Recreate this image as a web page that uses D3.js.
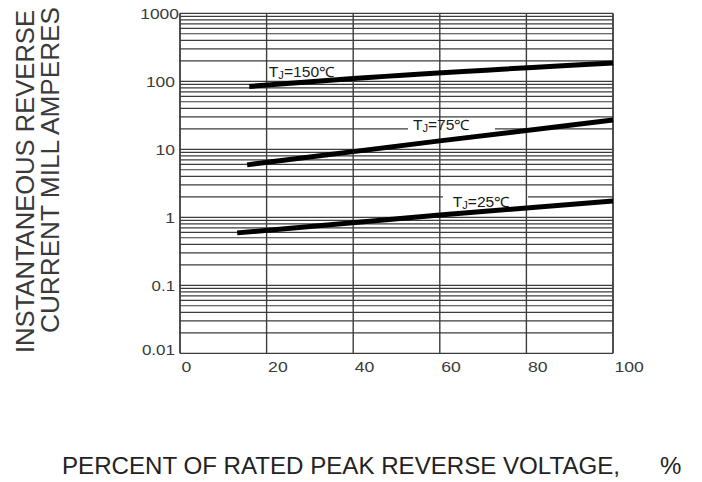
<!DOCTYPE html>
<html>
<head>
<meta charset="utf-8">
<script src="https://cdn.jsdelivr.net/npm/d3@7"></script>
<style>
  html, body { margin: 0; padding: 0; background: #fff; }
  svg { display: block; }
  text { font-family: "Liberation Sans", Arial, sans-serif; fill: #3a3a3a; }
</style>
</head>
<body>
<svg id="chart" width="702" height="482"></svg>
<script>
// ---- data ----
const xTicks = [0, 20, 40, 60, 80, 100];
const yTicks = [0.01, 0.1, 1, 10, 100, 1000];
const yTickLabels = ["0.01", "0.1", "1", "10", "100", "1000"];
const minorMultipliers = [2, 3, 4, 5, 6, 7, 8, 9];

const seriesNames = ["150", "75", "25"];
const x150 = [16, 40, 100];
const y150 = [84, 110, 186];
const x75 = [15.5, 60, 100];
const y75 = [5.9, 13.3, 27];
const x25 = [13.2, 60, 100];
const y25 = [0.59, 1.08, 1.74];

const xTitle = "PERCENT  OF  RATED PEAK REVERSE VOLTAGE,";
const yTitle1 = "INSTANTANEOUS REVERSE";
const yTitle2 = "CURRENT MILL AMPERES";

// ---- layout ----
const svg = d3.select("#chart");
const x = d3.scaleLinear().domain([0, 100]).range([180, 613]);
const y = d3.scaleLog().domain([0.01, 1000]).range([353.3, 13.3]);

const gridColor = "#3c3c3c";

// minor horizontal grid
const minorVals = [];
for (let e = -2; e < 3; e++) {
  minorMultipliers.forEach(m => minorVals.push(m * Math.pow(10, e)));
}
const grid = svg.append("g");
grid.selectAll("line.minor").data(minorVals).join("line")
  .attr("class", "minor")
  .attr("x1", x(0)).attr("x2", x(100))
  .attr("y1", d => y(d)).attr("y2", d => y(d))
  .attr("stroke", gridColor).attr("stroke-width", 1.2);
grid.selectAll("line.major").data(yTicks).join("line")
  .attr("class", "major")
  .attr("x1", x(0)).attr("x2", x(100))
  .attr("y1", d => y(d)).attr("y2", d => y(d))
  .attr("stroke", gridColor).attr("stroke-width", 1.3);

// label configuration (white background boxes for 75 & 25)
const labelCfg = [
  { name: "150", lx: 20.5, ly: 137, box: null, len: 66 },
  { name: "75", lx: 53.8, ly: 22.8, box: [408, 495], len: 57 },
  { name: "25", lx: 63.0, ly: 1.68, box: [443, 528], len: 57 }
];
const boxG = svg.append("g");
labelCfg.forEach(c => {
  const cy = y(c.ly);
  if (c.box) {
    boxG.append("rect")
      .attr("x", c.box[0]).attr("y", cy - 6)
      .attr("width", c.box[1] - c.box[0]).attr("height", 12)
      .attr("fill", "#fff");
  }
});

// vertical grid
svg.append("g").selectAll("line.v").data(xTicks).join("line")
  .attr("class", "v")
  .attr("x1", d => x(d)).attr("x2", d => x(d))
  .attr("y1", y(1000)).attr("y2", y(0.01))
  .attr("stroke", gridColor).attr("stroke-width", d => (d === 0 || d === 100) ? 1.8 : 1.4);

// axes tick labels
const xAxis = d3.axisBottom(x).tickValues(xTicks).tickSize(0).tickPadding(0);
const gx = svg.append("g").attr("transform", "translate(0,372)").call(xAxis);
gx.select(".domain").remove();
gx.selectAll("text")
  .attr("y", 0).attr("dy", 0)
  .attr("text-anchor", "start")
  .attr("dx", 1)
  .style("font-size", "14px")
  .style("font-family", "'Liberation Sans', Arial, sans-serif")
  .attr("fill", "#3a3a3a")
  .attr("textLength", d => String(d).length * 9.8)
  .attr("lengthAdjust", "spacingAndGlyphs");

const yAxis = d3.axisLeft(y).tickValues(yTicks).tickSize(0).tickPadding(0)
  .tickFormat((d, i) => yTickLabels[i]);
const gy = svg.append("g").attr("transform", "translate(175,0)").call(yAxis);
gy.select(".domain").remove();
gy.selectAll("text")
  .attr("x", 0).attr("dy", "0.36em")
  .style("font-size", "15px")
  .style("font-family", "'Liberation Sans', Arial, sans-serif")
  .attr("fill", "#3a3a3a")
  .attr("textLength", (d, i) => {
    const s = yTickLabels[i];
    return s.replace(".", "").length * 9.7 + (s.includes(".") ? 4 : 0);
  })
  .attr("lengthAdjust", "spacingAndGlyphs");
gy.selectAll(".tick").filter(d => d === 0.01).select("text").attr("dy", "0.05em");
gy.selectAll(".tick").filter(d => d === 1000).select("text").attr("x", 4);

// series lines
const seriesData = [
  { name: seriesNames[0], pts: x150.map((v, i) => [v, y150[i]]) },
  { name: seriesNames[1], pts: x75.map((v, i) => [v, y75[i]]) },
  { name: seriesNames[2], pts: x25.map((v, i) => [v, y25[i]]) }
];
const line = d3.line().x(d => x(d[0])).y(d => y(d[1])).curve(d3.curveMonotoneX);

svg.append("g").selectAll("path").data(seriesData).join("path")
  .attr("d", d => line(d.pts))
  .attr("fill", "none").attr("stroke", "#000")
  .attr("stroke-width", 5).attr("stroke-linecap", "butt");

const labG = svg.append("g");
labelCfg.forEach(c => {
  const t = labG.append("text")
    .attr("x", x(c.lx)).attr("y", y(c.ly)).attr("dy", "0.36em")
    .style("font-size", "14px").style("fill", "#1a1a1a")
    .attr("textLength", c.len).attr("lengthAdjust", "spacingAndGlyphs");
  t.append("tspan").text("T");
  t.append("tspan").text("J").style("font-size", "10px").attr("dy", "1.5");
  t.append("tspan").text("=" + c.name + "\u2103").attr("dy", "-1.5");
});

// titles
svg.append("text")
  .attr("transform", "translate(34,181.5) rotate(-90)")
  .attr("text-anchor", "middle")
  .style("font-size", "25px")
  .attr("textLength", 343).attr("lengthAdjust", "spacingAndGlyphs")
  .text(yTitle1);
svg.append("text")
  .attr("transform", "translate(59,170) rotate(-90)")
  .attr("text-anchor", "middle")
  .style("font-size", "25px")
  .attr("textLength", 326).attr("lengthAdjust", "spacingAndGlyphs")
  .text(yTitle2);

svg.append("text")
  .attr("x", 62).attr("y", 474)
  .style("font-size", "23px").style("fill", "#222")
  .attr("textLength", 558).attr("lengthAdjust", "spacingAndGlyphs")
  .text(xTitle);
svg.append("text")
  .attr("x", 660).attr("y", 474)
  .style("font-size", "24px").style("fill", "#222")
  .text("%");
</script>
</body>
</html>
